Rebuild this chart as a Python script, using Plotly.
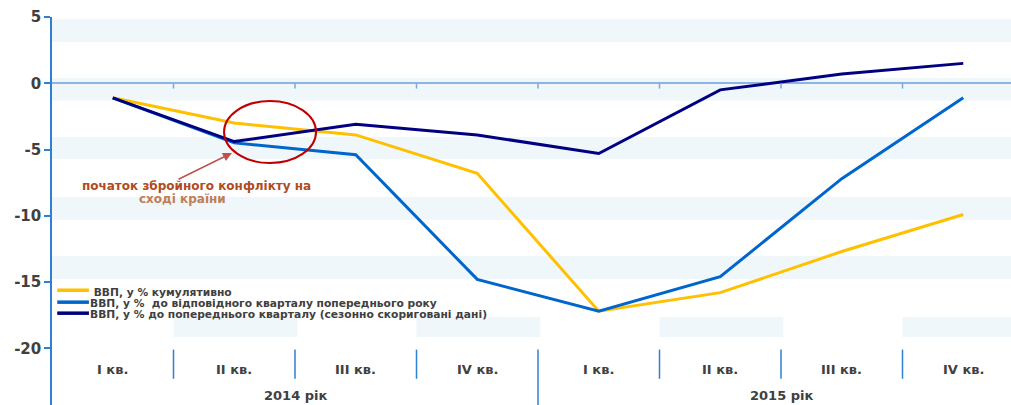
import plotly.graph_objects as go

quarters = ["I кв.", "II кв.", "III кв.", "IV кв.", "I кв.", "II кв.", "III кв.", "IV кв."]
years = ["2014 рік", "2015 рік"]
series_names = [
    " ВВП, у % кумулятивно",
    "ВВП, у %  до відповідного кварталу попереднього року",
    "ВВП, у % до попереднього кварталу (сезонно скориговані дані)",
]
cumulative = [-1.1, -3.0, -3.9, -6.8, -17.2, -15.8, -12.7, -9.9]
yoy = [-1.1, -4.5, -5.4, -14.8, -17.2, -14.6, -7.2, -1.1]
qoq_sa = [-1.1, -4.4, -3.1, -3.9, -5.3, -0.5, 0.7, 1.5]
y_ticks = [5, 0, -5, -10, -15, -20]
note_lines = ["початок збройного конфлікту на", "сході країни"]

colors = ["#FFC000", "#0066CC", "#000080"]
FONT = "DejaVu Sans"
TXT = "#404040"

xs = list(range(len(quarters)))
fig = go.Figure()
for vals, name, col in zip([cumulative, yoy, qoq_sa], series_names, colors):
    fig.add_trace(go.Scatter(x=xs, y=vals, mode="lines", name=name,
                             line=dict(color=col, width=3), showlegend=False))

shapes = []
band = "#EFF7FA"
for y0, y1 in [(4.85, 3.12), (0.4, -1.31), (-4.05, -5.71), (-8.58, -10.3), (-13.03, -14.77)]:
    shapes.append(dict(type="rect", xref="x", yref="y", x0=-0.5, x1=7.6, y0=y1, y1=y0,
                       fillcolor=band, line=dict(width=0), layer="below"))
for k in [1, 3, 5, 7]:
    shapes.append(dict(type="rect", xref="x", yref="y", x0=k - 0.5, x1=k + 0.52, y0=-19.15, y1=-17.64,
                       fillcolor=band, line=dict(width=0), layer="below"))
# ticks on zero line
for k in range(7):
    shapes.append(dict(type="line", xref="x", yref="y", x0=k + 0.5, x1=k + 0.5, y0=0, y1=-0.4,
                       line=dict(color="#7FA8DA", width=1.5)))
# bottom category separators
for k in range(7):
    y_end = -24.5 if k == 3 else -22.3
    shapes.append(dict(type="line", xref="x", yref="y", x0=k + 0.5, x1=k + 0.5, y0=-20.1, y1=y_end,
                       line=dict(color="#2F7FD3", width=1.5)))
# circle
shapes.append(dict(type="circle", xref="x", yref="y", x0=0.916, x1=1.673, y0=-6.02, y1=-1.34,
                   line=dict(color="#C00000", width=2)))

# manual legend
leg_y = [-15.62, -16.52, -17.35]
for name, col, yy in zip(series_names, colors, leg_y):
    shapes.append(dict(type="line", xref="x", yref="y", x0=-0.457, x1=-0.196, y0=yy, y1=yy,
                       line=dict(color=col, width=3.5)))

annotations = []
for name, yy in zip(series_names, [-15.8, -16.63, -17.45]):
    annotations.append(dict(x=-0.2, y=yy, xref="x", yref="y", text=name.replace("  ", "&nbsp; "),
                            showarrow=False, xanchor="left", yanchor="middle",
                            font=dict(family=FONT, size=10.7, color=TXT, weight="bold")))
for i, q in enumerate(quarters):
    annotations.append(dict(x=i, y=-21.6, xref="x", yref="y", text=q, showarrow=False,
                            font=dict(family=FONT, size=13, color=TXT, weight="bold")))
for j, yr in enumerate(years):
    annotations.append(dict(x=1.5 + 4 * j, y=-23.6, xref="x", yref="y", text=yr, showarrow=False,
                            font=dict(family=FONT, size=13, color=TXT, weight="bold")))
annotations.append(dict(x=0.693, y=-7.75, xref="x", yref="y", text=note_lines[0], showarrow=False,
                        font=dict(family=FONT, size=12, color="#B24A22", weight="bold")))
annotations.append(dict(x=0.57, y=-8.74, xref="x", yref="y", text=note_lines[1], showarrow=False,
                        font=dict(family=FONT, size=12, color="#C07E56", weight="bold")))
annotations.append(dict(x=0.981, y=-5.26, ax=0.529, ay=-7.30, xref="x", yref="y", axref="x", ayref="y",
                        text="", showarrow=True, arrowhead=2, arrowsize=1.2, arrowwidth=1.5,
                        arrowcolor="#C0504D"))

fig.update_layout(
    width=1011, height=405,
    margin=dict(l=52, r=0, t=17, b=0),
    paper_bgcolor="white", plot_bgcolor="white",
    shapes=shapes, annotations=annotations,
    xaxis=dict(range=[-0.5, 7.393], showticklabels=False, showgrid=False, zeroline=False,
               showline=False, ticks=""),
    yaxis=dict(range=[-24.28, 5], tickvals=y_ticks, ticktext=[str(v) for v in y_ticks],
               showgrid=False, zeroline=True, zerolinecolor="#8DB4E2", zerolinewidth=1.5,
               showline=True, linecolor="#2F7FD3", linewidth=1.5,
               ticks="outside", ticklen=6, tickcolor="#2F7FD3", tickwidth=1.5,
               tickfont=dict(family=FONT, size=15, color=TXT, weight="bold")),
)
fig.write_html("out.html", config={"displayModeBar": False},
               post_script="document.body.style.margin='0';document.body.style.overflow='hidden';")
